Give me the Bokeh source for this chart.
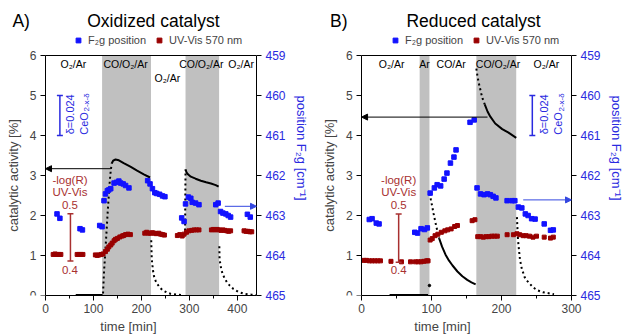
import math
from bokeh.plotting import figure
from bokeh.models import (Range1d, LinearAxis, FixedTicker, BoxAnnotation, Label, Arrow,
                          NormalHead, TeeHead, Legend, LegendItem)
from bokeh.layouts import row
from bokeh.embed import file_html
from bokeh.resources import INLINE

FONT = "Liberation Sans"
BLUE = "#1212ff"
BLUE_TXT = "#2a2ae0"
RED = "#990000"
RED_TXT = "#a83030"
GRAY = "#c0c0c0"

# ---------------- Panel A: oxidized catalyst ----------------
A_f2g_time = [24, 30, 72, 77, 113, 118, 122, 125, 129, 132, 136, 143, 148, 153, 157, 162, 167, 174,
              213, 218, 223, 228, 232, 238, 244, 249, 284, 289, 292, 298, 303, 306, 313, 320,
              355, 360, 365, 370, 376, 381, 386, 421, 427]
A_f2g_pos = [462.96, 463.07, 463.33, 463.36, 463.25, 463.28, 462.63, 462.46, 462.38, 462.36, 462.33,
             462.19, 462.17, 462.14, 462.19, 462.21, 462.25, 462.31,
             462.13, 462.21, 462.33, 462.43, 462.45, 462.47, 462.51, 462.53, 463.06, 463.15,
             462.71, 462.54, 462.57, 462.67, 462.69, 462.73,
             462.73, 462.69, 462.90, 462.94, 462.96, 463.00, 463.04, 462.97, 463.04]
A_uv_time = [16, 20, 24, 28, 32, 66, 70, 74, 78, 104, 108, 112, 116,
             120, 125, 129, 132, 136, 139, 143, 146, 150, 155, 160, 163, 167, 172, 177,
             207, 211, 215, 219, 223, 227, 231, 236, 240, 244, 248,
             275, 280, 285, 289, 294, 299, 305, 310, 315, 320,
             346, 350, 354, 358, 362, 366, 370, 374, 378, 382, 386,
             414, 418, 422, 426, 430]
A_uv_abs = [0.414, 0.415, 0.414, 0.414, 0.414, 0.414, 0.414, 0.414, 0.414, 0.413, 0.412, 0.413, 0.414,
            0.415, 0.420, 0.425, 0.430, 0.434, 0.438, 0.443, 0.446, 0.448, 0.451, 0.453, 0.454, 0.456, 0.457, 0.456,
            0.459, 0.461, 0.459, 0.459, 0.460, 0.459, 0.458, 0.459, 0.457, 0.456, 0.455,
            0.454, 0.456, 0.453, 0.457, 0.461, 0.464, 0.465, 0.466, 0.466, 0.466,
            0.466, 0.467, 0.466, 0.467, 0.466, 0.465, 0.466, 0.465, 0.464, 0.463, 0.464,
            0.464, 0.463, 0.463, 0.462, 0.462]
A_act_base_t = [63, 80, 100, 119]
A_act_base = [0.01, 0.01, 0.01, 0.01]
A_act_rise1_t = [120, 122, 124, 126, 128, 130, 132, 134, 136, 138]
A_act_rise1 = [0.05, 0.6, 0.95, 1.35, 1.75, 2.15, 2.5, 2.85, 3.12, 3.3]
A_act_run1_t = [138, 141, 146, 153, 163, 177, 191, 205, 218]
A_act_run1 = [3.3, 3.37, 3.4, 3.38, 3.31, 3.22, 3.12, 3.03, 2.95]
A_act_off1_t = [220.5, 221.5, 223, 224.5, 226.5, 229.5, 233.5, 238.5, 244.5, 252.5, 261.5, 273.5, 288.5]
A_act_off1 = [1.38, 0.93, 0.75, 0.6, 0.47, 0.37, 0.28, 0.2, 0.13, 0.08, 0.04, 0.02, 0.01]
A_act_rise2_t = [291, 291.5, 292]
A_act_rise2 = [1.5, 2.4, 3.15]
A_act_run2_t = [292, 294, 297, 303, 313, 324, 335, 345, 355, 361]
A_act_run2 = [3.15, 3.08, 3.03, 2.97, 2.92, 2.87, 2.83, 2.8, 2.76, 2.72]
A_act_off2_t = [362.5, 363, 365, 367, 370, 374, 378, 384, 392, 402, 415, 430, 440]
A_act_off2 = [1.23, 0.92, 0.75, 0.63, 0.52, 0.42, 0.34, 0.25, 0.16, 0.09, 0.04, 0.02, 0.01]
A_bands = [(118, 220), (292, 362)]
A_gas = ["O₂/Ar", "CO/O₂/Ar", "O₂/Ar", "CO/O₂/Ar", "O₂/Ar"]
A_gas_t = [58, 167, 254, 325, 408]
A_gas_y = [5.8, 5.8, 5.43, 5.8, 5.8]

# ---------------- Panel B: reduced catalyst ----------------
B_f2g_time = [11, 15, 21, 25, 76, 80, 85, 90, 94, 98, 104, 108, 113, 118, 122, 127, 132, 135, 155, 161,
              165, 170, 175, 180, 184, 188, 192, 208, 215, 219,
              224, 229, 234, 238, 243, 248, 261, 270, 274]
B_f2g_pos = [463.10, 463.08, 463.19, 463.21, 463.42, 463.44, 463.33, 463.35, 463.31,
             462.44, 462.31, 462.23, 462.26, 462.09, 461.94, 461.69, 461.54, 461.36, 460.67, 460.61,
             462.31, 462.46, 462.48, 462.46, 462.48, 462.52, 462.56, 462.63, 462.63, 462.63,
             462.79, 462.81, 462.96, 463.00, 463.08, 463.09, 463.21, 463.37, 463.36]
B_uv_time = [3, 7, 11, 15, 19, 23, 27, 42, 57, 70, 77, 81, 85, 89, 93, 95,
             98, 101, 105, 109, 114, 119, 123, 128, 133, 137, 158, 162,
             166, 170, 174, 178, 182, 186, 190, 194, 208, 217,
             222, 226, 231, 235, 240, 245, 250, 261, 270, 274]
B_uv_abs = [0.404, 0.404, 0.403, 0.403, 0.403, 0.403, 0.403, 0.402, 0.401, 0.401, 0.401, 0.401, 0.401, 0.402, 0.403, 0.403,
            0.446, 0.449, 0.455, 0.458, 0.462, 0.465, 0.467, 0.469, 0.474, 0.476, 0.486, 0.488,
            0.453, 0.453, 0.452, 0.453, 0.453, 0.454, 0.454, 0.454, 0.457, 0.457,
            0.459, 0.457, 0.455, 0.455, 0.454, 0.452, 0.454, 0.452, 0.450, 0.452]
B_act_base_t = [40, 60, 80, 95]
B_act_base = [0.01, 0.01, 0.01, 0.01]
B_act_first_t = [97]
B_act_first = [0.25]
B_act_co_fast_t = [97.5, 99, 101, 103, 105, 107, 109, 111]
B_act_co_fast = [2.55, 2.4, 2.22, 2.04, 1.87, 1.71, 1.56, 1.42]
B_act_co_t = [111, 115, 120, 125, 130, 137, 144, 151, 157, 163]
B_act_co = [1.42, 1.22, 1.02, 0.87, 0.75, 0.6, 0.48, 0.39, 0.33, 0.28]
B_act_mix_fast_t = [164, 165.5, 167, 169, 171, 173, 176]
B_act_mix_fast = [5.67, 5.5, 5.35, 5.2, 5.05, 4.92, 4.78]
B_act_mix_t = [176, 180, 184, 191, 201, 210, 221]
B_act_mix = [4.78, 4.6, 4.47, 4.3, 4.16, 4.07, 3.94]
B_act_off_t = [222, 223.5, 225, 226.5, 229, 233, 237, 241, 246, 252, 259, 266, 275]
B_act_off = [1.96, 1.4, 1.13, 0.88, 0.67, 0.46, 0.36, 0.28, 0.19, 0.125, 0.08, 0.06, 0.03]
B_bands = [(83, 97), (164, 221)]
B_gas = ["O₂/Ar", "Ar", "CO/Ar", "CO/O₂/Ar", "O₂/Ar"]
B_gas_t = [43, 90, 128, 195, 264]
B_gas_y = [5.8, 5.8, 5.8, 5.8, 5.8]

Y_TICKS = [0, 1, 2, 3, 4, 5, 6]
F2G_TICKS = [459, 460, 461, 462, 463, 464, 465]
Y_TOP = 6
Y_VIEW = 7.375          # extra room above the axes box for titles/legend
FIG_H = 336


def make_panel(c):
    xmin = c["xmin_view"]
    p = figure(width=c["width"], height=FIG_H, x_range=Range1d(xmin, c["xmax"]), y_range=Range1d(0, Y_VIEW),
               output_backend="svg", toolbar_location=None,
               min_border_left=0, min_border_right=c["br"], min_border_top=0, min_border_bottom=41)
    k = Y_VIEW / Y_TOP
    p.extra_y_ranges = {"f2g": Range1d(465, 465 - Y_VIEW),
                        "uv": Range1d(c["uv0"], c["uv0"] + (c["uv1"] - c["uv0"]) * k)}
    p.xgrid.visible = False
    p.ygrid.visible = False
    p.outline_line_color = None

    for l, r in c["bands"]:
        p.add_layout(BoxAnnotation(left=l, right=r, top=Y_TOP, bottom=0, fill_color=GRAY, fill_alpha=1.0,
                                   line_alpha=0, level="underlay"))
    # top edge of the axes box
    p.segment(x0=[0], y0=[Y_TOP], x1=[c["xmax"]], y1=[Y_TOP], line_color="black", line_width=1)

    for t, v in c["solid"]:
        p.line(t, v, line_color="black", line_width=2)
    for t, v in c["dotted"]:
        p.line(t, v, line_color="black", line_width=2, line_dash="2 3")
    for t, v in c["dots"]:
        p.scatter(t, v, marker="circle", size=2.5, color="black")

    r_uv = p.scatter(c["uv_t"], c["uv_v"], marker="square", size=4, color=RED, y_range_name="uv")
    r_f = p.scatter(c["f_t"], c["f_v"], marker="square", size=4.5, color=BLUE, y_range_name="f2g")

    xa = p.xaxis[0]
    xa.ticker = FixedTicker(ticks=c["xticks"], minor_ticks=c["xminor"])
    xa.axis_label = "time [min]"
    xa.bounds = (0, c["xmax"])
    ya = p.yaxis[0]
    ya.ticker = FixedTicker(ticks=Y_TICKS)
    ya.axis_label = "catalytic activity [%]"
    ya.bounds = (0, Y_TOP)
    ya.fixed_location = 0
    ra = LinearAxis(y_range_name="f2g", ticker=FixedTicker(ticks=F2G_TICKS),
                    axis_label="position F₂g [cm⁻¹]", bounds=(459, 465))
    p.add_layout(ra, "right")
    for ax in (xa, ya, ra):
        ax.major_tick_in = 0
        ax.major_tick_out = 5
        ax.minor_tick_in = 0
        ax.minor_tick_out = 3
        ax.major_label_text_font = FONT
        ax.major_label_text_font_size = "12px"
        ax.axis_label_text_font = FONT
        ax.axis_label_text_font_size = "13px"
        ax.axis_label_text_font_style = "normal"
        ax.axis_line_color = "black"
        ax.major_tick_line_color = "black"
        ax.minor_tick_line_color = "black"
    xa.major_label_standoff = 3
    xa.axis_label_standoff = 3
    ya.major_label_standoff = 4
    ya.axis_label_standoff = 6
    ra.major_label_standoff = 4
    ra.axis_label_standoff = 5
    ya.minor_tick_out = 0
    ra.minor_tick_out = 0
    ra.major_label_text_color = BLUE_TXT
    ra.axis_label_text_color = BLUE_TXT

    leg = Legend(items=[LegendItem(label="F₂g position", renderers=[r_f]),
                        LegendItem(label="UV-Vis 570 nm", renderers=[r_uv])],
                 orientation="horizontal", location=(c["leg_x"], 249), padding=0, margin=0, spacing=7,
                 glyph_width=12, glyph_height=12, label_height=12, label_standoff=4,
                 label_text_font=FONT, label_text_font_size="11px",
                 background_fill_alpha=0, border_line_alpha=0)
    p.add_layout(leg)

    def lab(x, y, text, size, color="black", align="center", angle=0.0, yr="default"):
        p.add_layout(Label(x=x, y=y, text=text, text_font=FONT, text_font_size=size, text_color=color,
                           text_align=align, text_baseline="middle", angle=angle, y_range_name=yr))

    lab(c["tag_x"], 6.875, c["tag"], "17.5px", align="left")
    lab(c["title_x"], 6.875, c["title"], "17.5px")
    for g, gx, gy in zip(c["gas"], c["gas_t"], c["gas_y"]):
        lab(gx, gy, g, "10.5px")

    # arrows pointing to the axes
    bx0, by = c["black_arrow"]
    p.add_layout(Arrow(x_start=bx0, y_start=by, x_end=0, y_end=by, line_color="black", line_width=1,
                       end=NormalHead(size=6, fill_color="black", line_color="black")))
    fx0, fy = c["blue_arrow"]
    p.add_layout(Arrow(x_start=fx0, y_start=fy, x_end=c["xmax"], y_end=fy, line_color="#3347e0",
                       line_width=1, y_range_name="f2g",
                       end=NormalHead(size=6, fill_color="#3347e0", line_color="#3347e0")))

    # scale bars
    p.add_layout(Arrow(x_start=c["bbar_x"], y_start=460.0, x_end=c["bbar_x"], y_end=461.0,
                       line_color=BLUE_TXT, line_width=1.5, y_range_name="f2g",
                       start=TeeHead(size=6, line_color=BLUE_TXT, line_width=1.5),
                       end=TeeHead(size=6, line_color=BLUE_TXT, line_width=1.5)))
    p.add_layout(Arrow(x_start=c["rbar_x"], y_start=0.4, x_end=c["rbar_x"], y_end=0.5,
                       line_color=RED_TXT, line_width=1.5, y_range_name="uv",
                       start=TeeHead(size=6, line_color=RED_TXT, line_width=1.5),
                       end=TeeHead(size=6, line_color=RED_TXT, line_width=1.5)))
    rx = c["rtxt_x"]
    lab(rx, 2.89, "-log(R)", "11.5px", RED_TXT)
    lab(rx, 2.58, "UV-Vis", "11.5px", RED_TXT)
    lab(rx, 2.27, "0.5", "11.5px", RED_TXT)
    lab(rx, 0.63, "0.4", "11.5px", RED_TXT)

    dx, cx, sx = c["btxt_x"]
    lab(dx, 4.53, "δ=0.024", "11px", BLUE_TXT, angle=math.pi / 2)
    lab(cx, 4.02, "CeO", "11px", BLUE_TXT, align="left", angle=math.pi / 2)
    lab(sx, 4.60, "2-x-δ", "8px", BLUE_TXT, align="left", angle=math.pi / 2)
    return p


pa = make_panel(dict(
    width=313, br=57, xmin_view=-93.85, xmax=440, xticks=[0, 100, 200, 300, 400], xminor=[50, 150, 250, 350],
    uv0=0.327, uv1=0.8355, bands=A_bands,
    solid=[(A_act_base_t, A_act_base), (A_act_run1_t, A_act_run1), (A_act_run2_t, A_act_run2)],
    dotted=[(A_act_rise1_t, A_act_rise1), (A_act_off1_t, A_act_off1), (A_act_rise2_t, A_act_rise2),
            (A_act_off2_t, A_act_off2)],
    dots=[],
    uv_t=A_uv_time, uv_v=A_uv_abs, f_t=A_f2g_time, f_v=A_f2g_pos,
    tag="A)", tag_x=-69, title="Oxidized catalyst", title_x=225, leg_x=72,
    gas=A_gas, gas_t=A_gas_t, gas_y=A_gas_y,
    black_arrow=(136, 3.17), blue_arrow=(374, 462.77),
    bbar_x=30, rbar_x=52, rtxt_x=51, btxt_x=(52, 80, 86)))

pb = make_panel(dict(
    width=313, br=50, xmin_view=-68.7, xmax=300, xticks=[0, 100, 200, 300], xminor=[50, 150, 250],
    uv0=0.3314, uv1=0.8273, bands=B_bands,
    solid=[(B_act_base_t, B_act_base), (B_act_co_t, B_act_co), (B_act_mix_t, B_act_mix)],
    dotted=[(B_act_co_fast_t, B_act_co_fast), (B_act_mix_fast_t, B_act_mix_fast), (B_act_off_t, B_act_off)],
    dots=[(B_act_first_t, B_act_first)],
    uv_t=B_uv_time, uv_v=B_uv_abs, f_t=B_f2g_time, f_v=B_f2g_pos,
    tag="B)", tag_x=-45, title="Reduced catalyst", title_x=160, leg_x=76,
    gas=B_gas, gas_t=B_gas_t, gas_y=B_gas_y,
    black_arrow=(180, 4.46), blue_arrow=(231, 462.61),
    bbar_x=244, rbar_x=53, rtxt_x=53, btxt_x=(260, 280, 285)))

layout = row(pa, pb, spacing=0)
open("out.html", "w").write(file_html(layout, INLINE))
